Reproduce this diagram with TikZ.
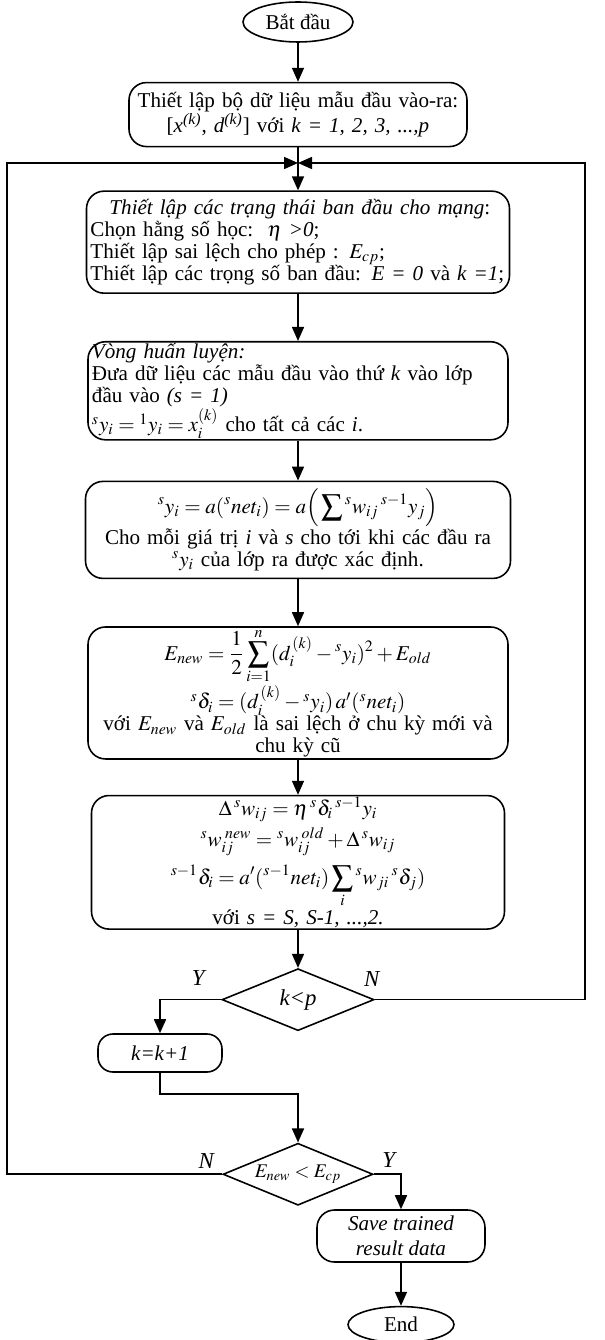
\documentclass[tikz,border=0pt]{standalone}
\usepackage{mathptmx}
\usepackage{fontspec}
\setmainfont{Liberation Serif}
\usepackage{amsmath}
\usetikzlibrary{arrows.meta, positioning, calc, shapes.geometric}
\lineskiplimit=-2pt

\begin{document}
\begin{tikzpicture}[
        node distance=0.86cm,
        font=\fontsize{12}{12.5}\selectfont,
        terminal/.style={
            draw,
            ellipse,
            line width=0.9pt,
            inner sep=0pt,
            font=\fontsize{12}{14}\selectfont
        },
        stepbox/.style={
            draw,
            rounded corners=0.35cm,
            line width=0.9pt,
            inner xsep=0.08cm,
            inner ysep=0.03cm,
            align=center
        },
        decision/.style={
            draw,
            diamond,
            aspect=2.4,
            line width=0.9pt,
            inner sep=0pt,
            font=\fontsize{13}{14}\selectfont\itshape
        },
        flowlink/.style={-{Triangle[length=2.8mm, width=2.4mm]}, line width=0.9pt},
        plainlink/.style={line width=0.9pt},
        branchlabel/.style={font=\fontsize{13}{14}\selectfont\itshape}
    ]
        \useasboundingbox (-5.96,-26.8) rectangle (6.12,0);

        \node[terminal, minimum width=2.2cm, minimum height=0.8cm] (start) at (0,-0.44) {Bắt đầu};
        \node[stepbox, text width=6.6cm, minimum height=1.28cm, below=0.78cm of start] (dataset)
            {Thiết lập bộ dữ liệu mẫu đầu vào-ra:\\
             {[}\textit{x}\textsuperscript{\textit{(k)}}, \textit{d}\textsuperscript{\textit{(k)}}] với \textit{k = 1, 2, 3, ...,p}};
        \node[stepbox, text width=8.3cm, minimum height=2.04cm, below=0.86cm of dataset, align=left] (init)
            {\hspace*{0.38cm}\textit{Thiết lập các trạng thái ban đầu cho mạng}:\\
             Chọn hằng số học:\ \ $\eta$ \textit{>0};\\
             Thiết lập sai lệch cho phép : $E_{cp}$;\\
             Thiết lập các trọng số ban đầu: \textit{E = 0} và \textit{k =1};};
        \node[stepbox, text width=8.24cm, minimum height=1.86cm, below=0.94cm of init, align=left] (present)
            {\textit{Vòng huấn luyện:}\\
             Đưa dữ liệu các mẫu đầu vào thứ \textit{k} vào lớp\\
             đầu vào \textit{(s = 1)}\\
             ${}^{s}y_i = {}^{1}y_i = x_i^{(k)}$ cho tất cả các \textit{i}.};
        \node[stepbox, text width=8.34cm, minimum height=1.94cm, below=0.8cm of present] (forward)
            {\mbox{$\displaystyle {}^{s}y_i = a({}^{s}net_i) = a\Big(\sum {}^{s}w_{ij}\,{}^{s-1}y_j\Big)$}\\
             Cho mỗi giá trị \textit{i} và \textit{s} cho tới khi các đầu ra\\
             ${}^{s}y_i$ của lớp ra được xác định.};
        \node[stepbox, text width=8.24cm, minimum height=2.56cm, below=0.94cm of forward] (error)
            {\mbox{$\displaystyle E_{new} = \frac{1}{2}\sum_{i=1}^{n}(d_i^{\,(k)} - {}^{s}y_i)^2 + E_{old}$}\\
             \mbox{${}^{s}\delta_i = (d_i^{\,(k)} - {}^{s}y_i)\,a'({}^{s}net_i)$}\\
             với $E_{new}$ và $E_{old}$ là sai lệch ở chu kỳ mới và\\
             chu kỳ cũ};
        \node[stepbox, text width=8.1cm, minimum height=2.6cm, below=0.7cm of error] (update)
            {\mbox{$\Delta\,{}^{s}w_{ij} = \eta\,{}^{s}\delta_i\,{}^{s-1}y_i$}\\[2.5pt]
             \mbox{${}^{s}w_{ij}^{\;new} = {}^{s}w_{ij}^{\;old} + \Delta\,{}^{s}w_{ij}$}\\[4pt]
             \mbox{$\displaystyle {}^{s-1}\delta_i = a'({}^{s-1}net_i)\sum_{i} {}^{s}w_{ji}\,{}^{s}\delta_j)$}\\[0pt]
             với \textit{s = S, S-1, ...,2.}};
        \node[decision, minimum width=3.04cm, minimum height=1.24cm, below=0.76cm of update] (checkk) {k<p};
        \node[stepbox, rounded corners=0.3cm, minimum width=2.48cm, minimum height=0.76cm] (incr) at (-2.76,-21.06)
            {\textit{k=k+1}};
        \node[decision, minimum width=3.0cm, minimum height=1.24cm, below=2.22cm of checkk, font=\fontsize{11}{12}\selectfont] (checke)
            {$E_{new} < E_{cp}$};
        \node[stepbox, minimum width=3.36cm, minimum height=1.04cm, font=\fontsize{12}{14}\selectfont\itshape] (save) at (2.06,-24.72)
            {Save trained\\result data};
        \node[terminal, minimum width=2.12cm, minimum height=0.72cm, below=0.86cm of save] (finish) {End};

        \coordinate (join) at (0,-3.26);

        \node[branchlabel] (yeskp) at ($(checkk.west)+(-0.46,0.44)$) {Y};
        \node[branchlabel] (nokp) at ($(checkk.east)+(-0.06,0.42)$) {N};
        \node[branchlabel] (noerr) at ($(checke.west)+(-0.32,0.26)$) {N};
        \node[branchlabel] (yeserr) at ($(checke.east)+(0.3,0.28)$) {Y};

        \draw[flowlink] (start) -- (dataset);
        \draw[plainlink] (dataset) -- (join);
        \draw[flowlink] (join) -- (init);
        \draw[flowlink] (init) -- (present);
        \draw[flowlink] (present) -- (forward);
        \draw[flowlink] (forward) -- (error);
        \draw[flowlink] (error) -- (update);
        \draw[flowlink] (update) -- (checkk);
        \draw[flowlink] (checkk.west) -| (incr.north);
        \draw[flowlink] (incr.south) -- ++(0,-0.42) -| (checke.north);
        \draw[flowlink] (checkk.east) -| ($(join)+(5.74,0)$) -- (join);
        \draw[flowlink] (checke.west) -| ($(join)+(-5.82,0)$) -- (join);
        \draw[flowlink] (checke.east) -| (save.north);
        \draw[flowlink] (save) -- (finish);
    \end{tikzpicture}
\end{document}
